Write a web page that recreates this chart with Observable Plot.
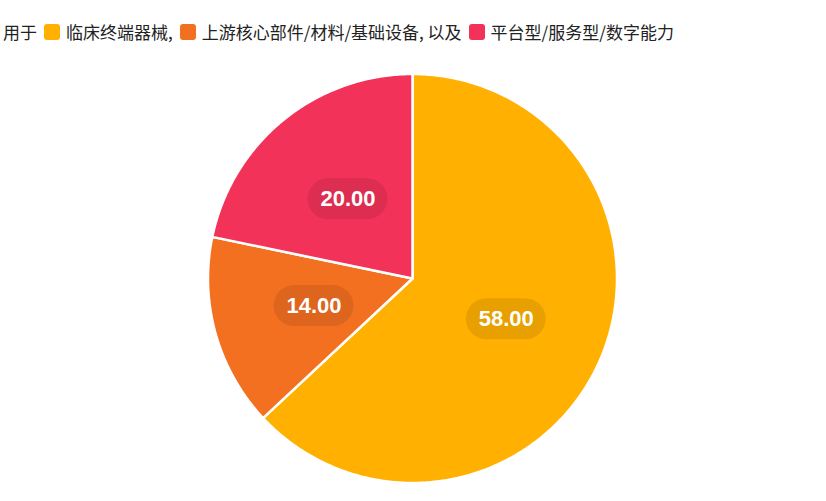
<!DOCTYPE html>
<html>
<head>
<meta charset="utf-8">
<script src="https://cdn.jsdelivr.net/npm/d3@7"></script>
<script src="https://cdn.jsdelivr.net/npm/@observablehq/plot@0.6"></script>
<style>
  html, body { margin: 0; padding: 0; background: #fff; }
  #legend {
    box-sizing: border-box;
    height: 50px;
    padding: 22px 0 8px 3px;
    display: flex;
    align-items: center;
    font-family: "Noto Sans CJK SC", "Noto Sans", sans-serif;
    font-size: 17px;
    line-height: 20px;
    color: #222;
    white-space: nowrap;
  }
  #legend .sw { display: inline-block; width: 16px; height: 16px; border-radius: 3px; margin: 0 6px 0 7px; }
  #chart svg text.lbl { text-shadow: 0 0 2px rgba(0,0,0,0.25); }
</style>
</head>
<body>
<div id="legend"></div>
<div id="chart"></div>
<script>
const categories = ["临床终端器械", "上游核心部件/材料/基础设备", "平台型/服务型/数字能力"];
const values = [58, 14, 20];
const colors = ["#FFB000", "#F37021", "#F3325A"];
const legendPrefix = "用于";
const legendJoiners = [",", ", 以及", ""];

// legend
const legend = document.getElementById("legend");
legend.appendChild(document.createTextNode(legendPrefix));
categories.forEach((c, i) => {
  const sw = document.createElement("span");
  sw.className = "sw";
  sw.style.background = colors[i];
  legend.appendChild(sw);
  const t = document.createElement("span");
  t.textContent = c + legendJoiners[i];
  legend.appendChild(t);
});

// pie geometry (data space: unit circle, angle 0 at top, clockwise)
const arcs = d3.pie().sort(null).value(d => d.value)(categories.map((c, i) => ({category: c, value: values[i]})));
const slicePts = [];
arcs.forEach(a => {
  const key = a.data.category;
  slicePts.push({key, x: 0, y: 0});
  const n = Math.max(2, Math.ceil((a.endAngle - a.startAngle) / 0.01));
  for (let k = 0; k <= n; k++) {
    const t = a.startAngle + (a.endAngle - a.startAngle) * k / n;
    slicePts.push({key, x: Math.sin(t), y: Math.cos(t)});
  }
});

const R = 204.5;            // pixel radius
const labelR = 0.5;
const pillW = 80 / R, pillH = 41 / R;
const labels = arcs.map(a => {
  const m = (a.startAngle + a.endAngle) / 2;
  return {key: a.data.category, text: a.data.value.toFixed(2), x: labelR * Math.sin(m), y: labelR * Math.cos(m)};
});

const chart = Plot.plot({
  width: 826,
  height: 451,
  marginLeft: 412 - R,
  marginRight: 826 - 412 - R,
  marginTop: 23.5,
  marginBottom: 451 - 23.5 - 2 * R,
  x: {domain: [-1, 1], axis: null},
  y: {domain: [-1, 1], axis: null},
  color: {domain: categories, range: colors},
  marks: [
    Plot.line(slicePts, {x: "x", y: "y", z: "key", fill: "key", stroke: "white", strokeWidth: 2.5, strokeLinejoin: "round", curve: "linear-closed"}),
    Plot.rect(labels, {x1: d => d.x - pillW / 2, x2: d => d.x + pillW / 2, y1: d => d.y - pillH / 2, y2: d => d.y + pillH / 2, rx: pillH * R / 2, fill: "rgba(0,0,0,0.09)"}),
    Plot.text(labels, {x: "x", y: "y", text: "text", fill: "white", fontSize: 22, fontWeight: "bold", fontFamily: "Liberation Sans, Arial, sans-serif", className: "lbl"})
  ]
});
document.getElementById("chart").appendChild(chart);
</script>
</body>
</html>
